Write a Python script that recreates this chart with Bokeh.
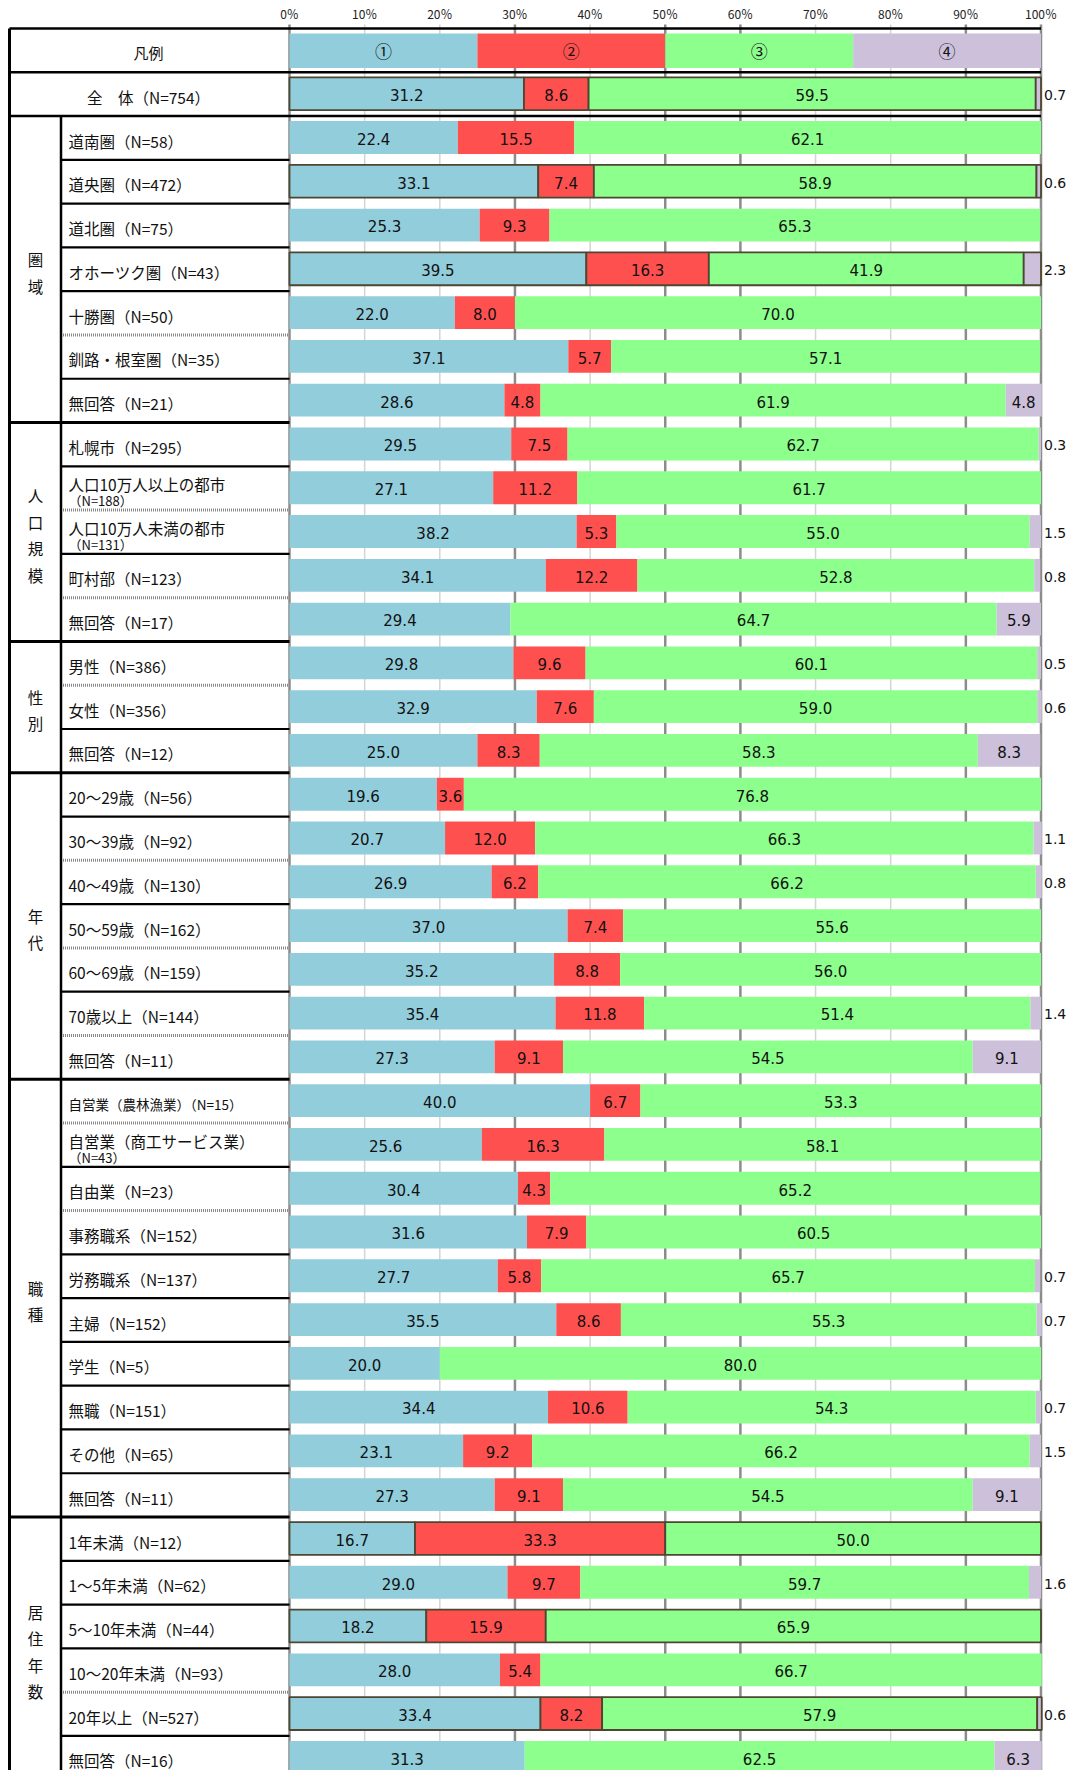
import numpy as np
from bokeh.plotting import figure
from bokeh.models import ColumnDataSource, Range1d
from bokeh.embed import file_html
from bokeh.resources import INLINE
from bokeh.core.properties import value

# ---------------- data ----------------
tick_values = [0, 10, 20, 30, 40, 50, 60, 70, 80, 90, 100]
tick_labels = ["0％", "10％", "20％", "30％", "40％", "50％", "60％", "70％", "80％", "90％", "100％"]
legend_marks = ["①", "②", "③", "④"]
series_colors = ["#92CDDC", "#FF5050", "#8CFF8C", "#CCC0DA"]

overall_label = "全　体（N=754）"
group_names = ["圏域", "人口規模", "性別", "年代", "職種", "居住年数"]
group_sizes = [7, 5, 3, 7, 10, 6]

row_main = [
    "道南圏（N=58）", "道央圏（N=472）", "道北圏（N=75）", "オホーツク圏（N=43）",
    "十勝圏（N=50）", "釧路・根室圏（N=35）", "無回答（N=21）",
    "札幌市（N=295）", "人口10万人以上の都市", "人口10万人未満の都市", "町村部（N=123）", "無回答（N=17）",
    "男性（N=386）", "女性（N=356）", "無回答（N=12）",
    "20～29歳（N=56）", "30～39歳（N=92）", "40～49歳（N=130）", "50～59歳（N=162）",
    "60～69歳（N=159）", "70歳以上（N=144）", "無回答（N=11）",
    "自営業（農林漁業）（N=15）", "自営業（商工サービス業）", "自由業（N=23）", "事務職系（N=152）",
    "労務職系（N=137）", "主婦（N=152）", "学生（N=5）", "無職（N=151）", "その他（N=65）", "無回答（N=11）",
    "1年未満（N=12）", "1～5年未満（N=62）", "5～10年未満（N=44）", "10～20年未満（N=93）",
    "20年以上（N=527）", "無回答（N=16）",
]
row_sub = [""] * 8 + ["（N=188）", "（N=131）"] + [""] * 13 + ["（N=43）"] + [""] * 14

# series values: overall first, then the 38 sub-group rows
s1 = [31.2,
      22.4, 33.1, 25.3, 39.5, 22.0, 37.1, 28.6,
      29.5, 27.1, 38.2, 34.1, 29.4,
      29.8, 32.9, 25.0,
      19.6, 20.7, 26.9, 37.0, 35.2, 35.4, 27.3,
      40.0, 25.6, 30.4, 31.6, 27.7, 35.5, 20.0, 34.4, 23.1, 27.3,
      16.7, 29.0, 18.2, 28.0, 33.4, 31.3]
s2 = [8.6,
      15.5, 7.4, 9.3, 16.3, 8.0, 5.7, 4.8,
      7.5, 11.2, 5.3, 12.2, 0.0,
      9.6, 7.6, 8.3,
      3.6, 12.0, 6.2, 7.4, 8.8, 11.8, 9.1,
      6.7, 16.3, 4.3, 7.9, 5.8, 8.6, 0.0, 10.6, 9.2, 9.1,
      33.3, 9.7, 15.9, 5.4, 8.2, 0.0]
s3 = [59.5,
      62.1, 58.9, 65.3, 41.9, 70.0, 57.1, 61.9,
      62.7, 61.7, 55.0, 52.8, 64.7,
      60.1, 59.0, 58.3,
      76.8, 66.3, 66.2, 55.6, 56.0, 51.4, 54.5,
      53.3, 58.1, 65.2, 60.5, 65.7, 55.3, 80.0, 54.3, 66.2, 54.5,
      50.0, 59.7, 65.9, 66.7, 57.9, 62.5]
s4 = [0.7,
      0.0, 0.6, 0.0, 2.3, 0.0, 0.0, 4.8,
      0.3, 0.0, 1.5, 0.8, 5.9,
      0.5, 0.6, 8.3,
      0.0, 1.1, 0.8, 0.0, 0.0, 1.4, 9.1,
      0.0, 0.0, 0.0, 0.0, 0.7, 0.7, 0.0, 0.7, 1.5, 9.1,
      0.0, 1.6, 0.0, 0.0, 0.6, 6.3]

# separator styles between rows inside each group ("s" solid, "d" dotted)
sep_styles = [
    ["s", "s", "s", "s", "d", "s"],
    ["s", "d", "s", "d"],
    ["d", "s"],
    ["s", "d", "s", "d", "s", "d"],
    ["d", "s", "d", "s", "s", "s", "s", "s", "s"],
    ["s", "s", "s", "d", "s"],
]
# rows (1 = overall) drawn with a dark frame, as in the source picture
framed_rows = [1, 3, 5, 34, 36, 38]

# ---------------- layout helpers ----------------
W, H = 1066, 1770
X0, X100 = 289.0, 1040.5
PX = (X100 - X0) / 100.0
TOP, ROW_H = 28.0, 43.78


def X(sx):
    return (sx - X0) / PX


def Y(sy):
    return (sy - TOP) / ROW_H


JP = value("Noto Sans CJK JP")
NUM = value("DejaVu Sans")

p = figure(width=W, height=H,
           x_range=Range1d(X(0), X(W)),
           y_range=Range1d(Y(H), Y(0)),
           output_backend="svg", toolbar_location=None,
           x_axis_location=None, y_axis_location=None,
           min_border=0, outline_line_color=None,
           background_fill_color="white", border_fill_color="white")
p.grid.visible = False

n_rows = len(s1)
y_bottom = Y(H)

# ---- vertical gridlines ----
dark = {0, 30, 50, 60, 90, 100}
gsrc = ColumnDataSource(dict(
    x=tick_values,
    y0=[Y(24)] * len(tick_values),
    y1=[y_bottom] * len(tick_values),
    c=["#8c8c8c" if t in dark else "#d4d4d4" for t in tick_values],
    w=[2.5 if t in dark else 1.5 for t in tick_values],
))
p.segment(x0="x", y0="y0", x1="x", y1="y1", line_color="c", line_width="w", source=gsrc)

# ---- tick labels ----
p.text(x=tick_values, y=[Y(13)] * len(tick_values), text=tick_labels,
       text_font=JP, text_font_size="12px", text_align="center",
       text_baseline="middle", text_color="#222222")

# ---- legend bar ----
leg_left = [i * 100.0 / len(legend_marks) for i in range(len(legend_marks))]
leg_right = [(i + 1) * 100.0 / len(legend_marks) for i in range(len(legend_marks))]
lsrc = ColumnDataSource(dict(l=leg_left, r=leg_right, y=[0.51] * 4, c=series_colors,
                             xm=[(a + b) / 2 for a, b in zip(leg_left, leg_right)], t=legend_marks))
p.hbar(y="y", left="l", right="r", height=0.79, fill_color="c", line_color=None, source=lsrc)
p.text(x="xm", y="y", text="t", text_font=JP, text_font_size="17px", text_align="center",
       text_baseline="middle", text_color="#111111", source=lsrc)

# ---- data bars ----
vals = np.array([s1, s2, s3, s4])
cum = np.cumsum(vals, axis=0)
left = cum - vals
ys = np.arange(n_rows) + 1 + 0.49
bl, br, by, bc, blc = [], [], [], [], []
tx, ty, tt = [], [], []
ox, oy, ot = [], [], []
for si in range(4):
    for ri in range(n_rows):
        v = vals[si, ri]
        if v <= 0:
            continue
        bl.append(left[si, ri]); br.append(cum[si, ri]); by.append(ys[ri]); bc.append(series_colors[si])
        blc.append("#4d4630" if (ri + 1) in framed_rows else None)
        if si == 3 and v < 4:
            ox.append(X(1043.5)); oy.append(ys[ri] + 0.03); ot.append(f"{v:.1f}")
        else:
            tx.append((left[si, ri] + cum[si, ri]) / 2); ty.append(ys[ri] + 0.03); tt.append(f"{v:.1f}")

bsrc = ColumnDataSource(dict(l=bl, r=br, y=by, c=bc, lc=blc))
p.hbar(y="y", left="l", right="r", height=0.75, fill_color="c", line_color="lc",
       line_width=1.8, source=bsrc)
p.text(x=tx, y=ty, text=tt, text_font=NUM, text_font_size="15px", text_align="center",
       text_baseline="middle", text_color="#111111")
p.text(x=ox, y=oy, text=ot, text_font=NUM, text_font_size="14px", text_align="left",
       text_baseline="middle", text_color="#111111")

# ---- table lines ----
xl, xc, xr = X(9), X(60.5), X(289)
for k in (0, 1, 2):
    p.segment(x0=[xl], y0=[k], x1=[100], y1=[k], line_color="black", line_width=2.5)
solid_y, dot_y = [], []
start = 2
group_bounds = []
for gi, size in enumerate(group_sizes):
    group_bounds.append((start, start + size))
    for j, st in enumerate(sep_styles[gi]):
        yb = start + j + 1
        (solid_y if st == "s" else dot_y).append(yb)
    start += size
gb_y = [b[0] for b in group_bounds[1:]]
p.segment(x0=[xl] * len(gb_y), y0=gb_y, x1=[xr] * len(gb_y), y1=gb_y, line_color="black", line_width=3)
p.segment(x0=[xc] * len(solid_y), y0=solid_y, x1=[xr] * len(solid_y), y1=solid_y,
          line_color="black", line_width=2.2)
p.segment(x0=[xc] * len(dot_y), y0=dot_y, x1=[xr] * len(dot_y), y1=dot_y,
          line_color="#888888", line_width=3, line_dash="1 1")
p.segment(x0=[xl], y0=[0], x1=[xl], y1=[y_bottom], line_color="black", line_width=3)
p.segment(x0=[xc], y0=[2], x1=[xc], y1=[y_bottom], line_color="black", line_width=2.5)

# ---- label texts ----
p.text(x=[X(148)], y=[0.55], text=["凡例"], text_font=JP, text_font_size="15px",
       text_align="center", text_baseline="middle", text_color="#111111")
p.text(x=[X(148)], y=[1.56], text=[overall_label], text_font=JP, text_font_size="15.5px",
       text_align="center", text_baseline="middle", text_color="#111111")

single_x, single_y, single_t, single_s = [], [], [], []
two_x, two_y, two_t = [], [], []
sub_x, sub_y, sub_t = [], [], []
for i, (m, s) in enumerate(zip(row_main, row_sub)):
    k = i + 2
    if s:
        two_x.append(X(68)); two_y.append(k + 0.40); two_t.append(m)
        sub_x.append(X(68)); sub_y.append(k + 0.78); sub_t.append(s)
    else:
        single_x.append(X(68)); single_y.append(k + 0.56); single_t.append(m)
        single_s.append("13.5px" if len(m) > 14 else "15.5px")
ssrc = ColumnDataSource(dict(x=single_x, y=single_y, t=single_t, s=single_s))
p.text(x="x", y="y", text="t", text_font=JP, text_font_size="s", text_align="left",
       text_baseline="middle", text_color="#111111", source=ssrc)
p.text(x=two_x, y=two_y, text=two_t, text_font=JP, text_font_size="15.5px", text_align="left",
       text_baseline="middle", text_color="#111111")
p.text(x=sub_x, y=sub_y, text=sub_t, text_font=JP, text_font_size="13px", text_align="left",
       text_baseline="middle", text_color="#111111")

cx, cy, ct = [], [], []
for name, (a, b) in zip(group_names, group_bounds):
    cx.append(X(35)); cy.append((a + b) / 2 + 0.07); ct.append("\n".join(name))
p.text(x=cx, y=cy, text=ct, text_font=JP, text_font_size="15.5px", text_align="center",
       text_baseline="middle", text_line_height=1.2, text_color="#111111")

open("out.html", "w").write(file_html(p, INLINE))
